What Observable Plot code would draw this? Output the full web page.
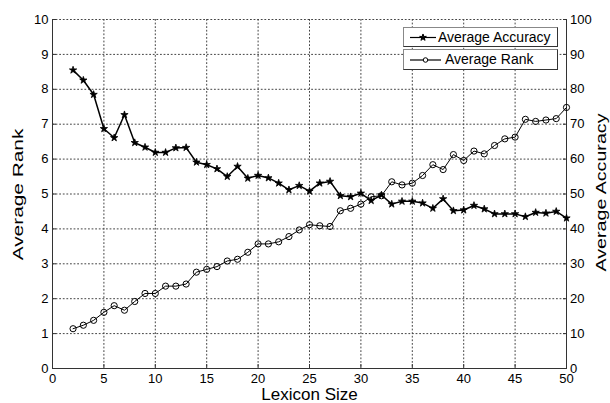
<!DOCTYPE html>
<html><head><meta charset="utf-8">
<script src="https://cdn.jsdelivr.net/npm/d3@7"></script>
<script src="https://cdn.jsdelivr.net/npm/@observablehq/plot@0.6"></script>
<style>
body{margin:0;background:#fff;font-family:"Liberation Sans",Arial,sans-serif;}
#wrap{position:relative;width:610px;height:403px;overflow:hidden;}
.leg{position:absolute;background:#fff;border:1px solid #888;border-right-color:#333;border-bottom-color:#333;box-sizing:border-box;font-size:14px;color:#000;}
.leg svg{position:absolute;left:0;top:0;}
.leg span{position:absolute;top:1px;white-space:nowrap;}
</style></head><body><div id="wrap"></div>
<script>
const lexiconSize = [2,3,4,5,6,7,8,9,10,11,12,13,14,15,16,17,18,19,20,21,22,23,24,25,26,27,28,29,30,31,32,33,34,35,36,37,38,39,40,41,42,43,44,45,46,47,48,49,50];
const averageAccuracy = [85.5,82.6,78.5,68.7,66.1,72.7,64.7,63.4,61.9,61.9,63.2,63.3,59.1,58.4,57.2,55.0,57.9,54.5,55.3,54.6,53.1,51.2,52.4,50.8,53.1,53.6,49.5,49.2,50.2,48.1,49.7,47.1,47.9,47.9,47.4,45.9,48.6,45.2,45.4,46.7,45.7,44.3,44.3,44.3,43.5,44.7,44.5,45.0,43.1];
const averageRank = [1.14,1.24,1.38,1.61,1.80,1.67,1.92,2.15,2.15,2.36,2.36,2.42,2.76,2.84,2.92,3.08,3.13,3.33,3.57,3.57,3.63,3.78,3.97,4.12,4.09,4.07,4.52,4.59,4.71,4.92,4.95,5.35,5.26,5.31,5.53,5.84,5.70,6.13,5.96,6.23,6.15,6.39,6.58,6.63,7.14,7.08,7.12,7.16,7.48];
const xTicks = [0,5,10,15,20,25,30,35,40,45,50];
const rankTicks = [0,1,2,3,4,5,6,7,8,9,10];
const accuracyTicks = [0,10,20,30,40,50,60,70,80,90,100];
const seriesNames = ["Average Accuracy", "Average Rank"];
const xLabel = "Lexicon Size", yLeftLabel = "Average Rank", yRightLabel = "Average Accuracy";
const accMax = 100, rankMax = 10;

const data = lexiconSize.map((x, i) => ({x, acc: averageAccuracy[i], rank: averageRank[i]}));
const accY = d => d.acc / accMax * rankMax;

const gridStyle = {stroke: "#444", strokeOpacity: 1, strokeWidth: 1, strokeDasharray: "1.8,1.8"};
const axisColor = "#333";

const chart = Plot.plot({
  width: 610, height: 403,
  marginLeft: 52, marginRight: 44, marginTop: 19, marginBottom: 35,
  style: {fontFamily: "Liberation Sans, Arial, sans-serif", fontSize: "13px", color: "#000", background: "#fff", overflow: "visible"},
  x: {domain: [0, 50]},
  y: {domain: [0, rankMax]},
  marks: [
    Plot.gridX(xTicks.slice(1, -1), gridStyle),
    Plot.gridY(rankTicks.slice(1), gridStyle),
    Plot.ruleX([xTicks[0], xTicks[xTicks.length - 1]], {stroke: axisColor}),
    Plot.ruleY([rankTicks[0]], {stroke: axisColor}),
    Plot.axisX(xTicks, {tickSize: -4, tickPadding: 9, stroke: axisColor, label: null}),
    Plot.axisY(rankTicks, {anchor: "left", tickSize: -4, tickPadding: 8, stroke: axisColor, label: null}),
    Plot.axisY(rankTicks, {anchor: "right", tickSize: -4, tickPadding: 7.5, stroke: axisColor, label: null,
      tickFormat: (d, i) => accuracyTicks[i]}),
    Plot.text([xLabel], {frameAnchor: "bottom", lineAnchor: "top", dy: 19, fontSize: 17}),
    Plot.text([yLeftLabel], {frameAnchor: "left", textAnchor: "middle", rotate: -90, dx: -34.5, dy: 0.5, fontSize: 15}),
    Plot.text([yRightLabel], {frameAnchor: "right", textAnchor: "middle", rotate: -90, dx: 34.5, dy: -1.5, fontSize: 15}),
    Plot.line(data, {x: "x", y: accY, stroke: "#000", strokeWidth: 1.5}),
    Plot.dot(data, {x: "x", y: accY, symbol: "star", r: 2.3, fill: "#000", stroke: "#000", strokeWidth: 0.8}),
    Plot.line(data, {x: "x", y: "rank", stroke: "#000", strokeWidth: 1}),
    Plot.dot(data, {x: "x", y: "rank", symbol: "circle", r: 3.1, fill: "none", stroke: "#000", strokeWidth: 1})
  ]
});
// stretch the rotated axis titles along their length, as in the reference
const stretch = {[yLeftLabel]: 1.39, [yRightLabel]: 1.31};
d3.select(chart).selectAll("text").each(function () {
  const s = stretch[this.textContent];
  if (s) this.setAttribute("transform", (this.getAttribute("transform") || "") + ` scale(${s},1)`);
});
const wrap = document.getElementById("wrap");
wrap.appendChild(chart);

const legendItems = [
  {label: seriesNames[0], marker: "star", box: [403, 27, 155, 20], line: [6, 32], text: 34},
  {label: seriesNames[1], marker: "circle", box: [403, 49, 155, 21], line: [6, 37], text: 41}
];
for (const it of legendItems) {
  const [l, t, w, h] = it.box;
  const div = document.createElement("div");
  div.className = "leg";
  Object.assign(div.style, {left: l + "px", top: t + "px", width: w + "px", height: h + "px"});
  const cy = h / 2 - 0.5;
  const mx = (it.line[0] + it.line[1]) / 2;
  const sym = it.marker === "star" ? d3.symbol(d3.symbolStar, 14)() : d3.symbol(d3.symbolCircle, 16)();
  div.innerHTML = `<svg width="${w}" height="${h}"><line x1="${it.line[0]}" x2="${it.line[1]}" y1="${cy}" y2="${cy}" stroke="#000" stroke-width="1.2"/>
    <path d="${sym}" transform="translate(${mx},${cy})" fill="${it.marker === "star" ? "#000" : "#fff"}" stroke="#000" stroke-width="1"/></svg>
    <span style="left:${it.text}px">${it.label}</span>`;
  wrap.appendChild(div);
}
</script></body></html>
